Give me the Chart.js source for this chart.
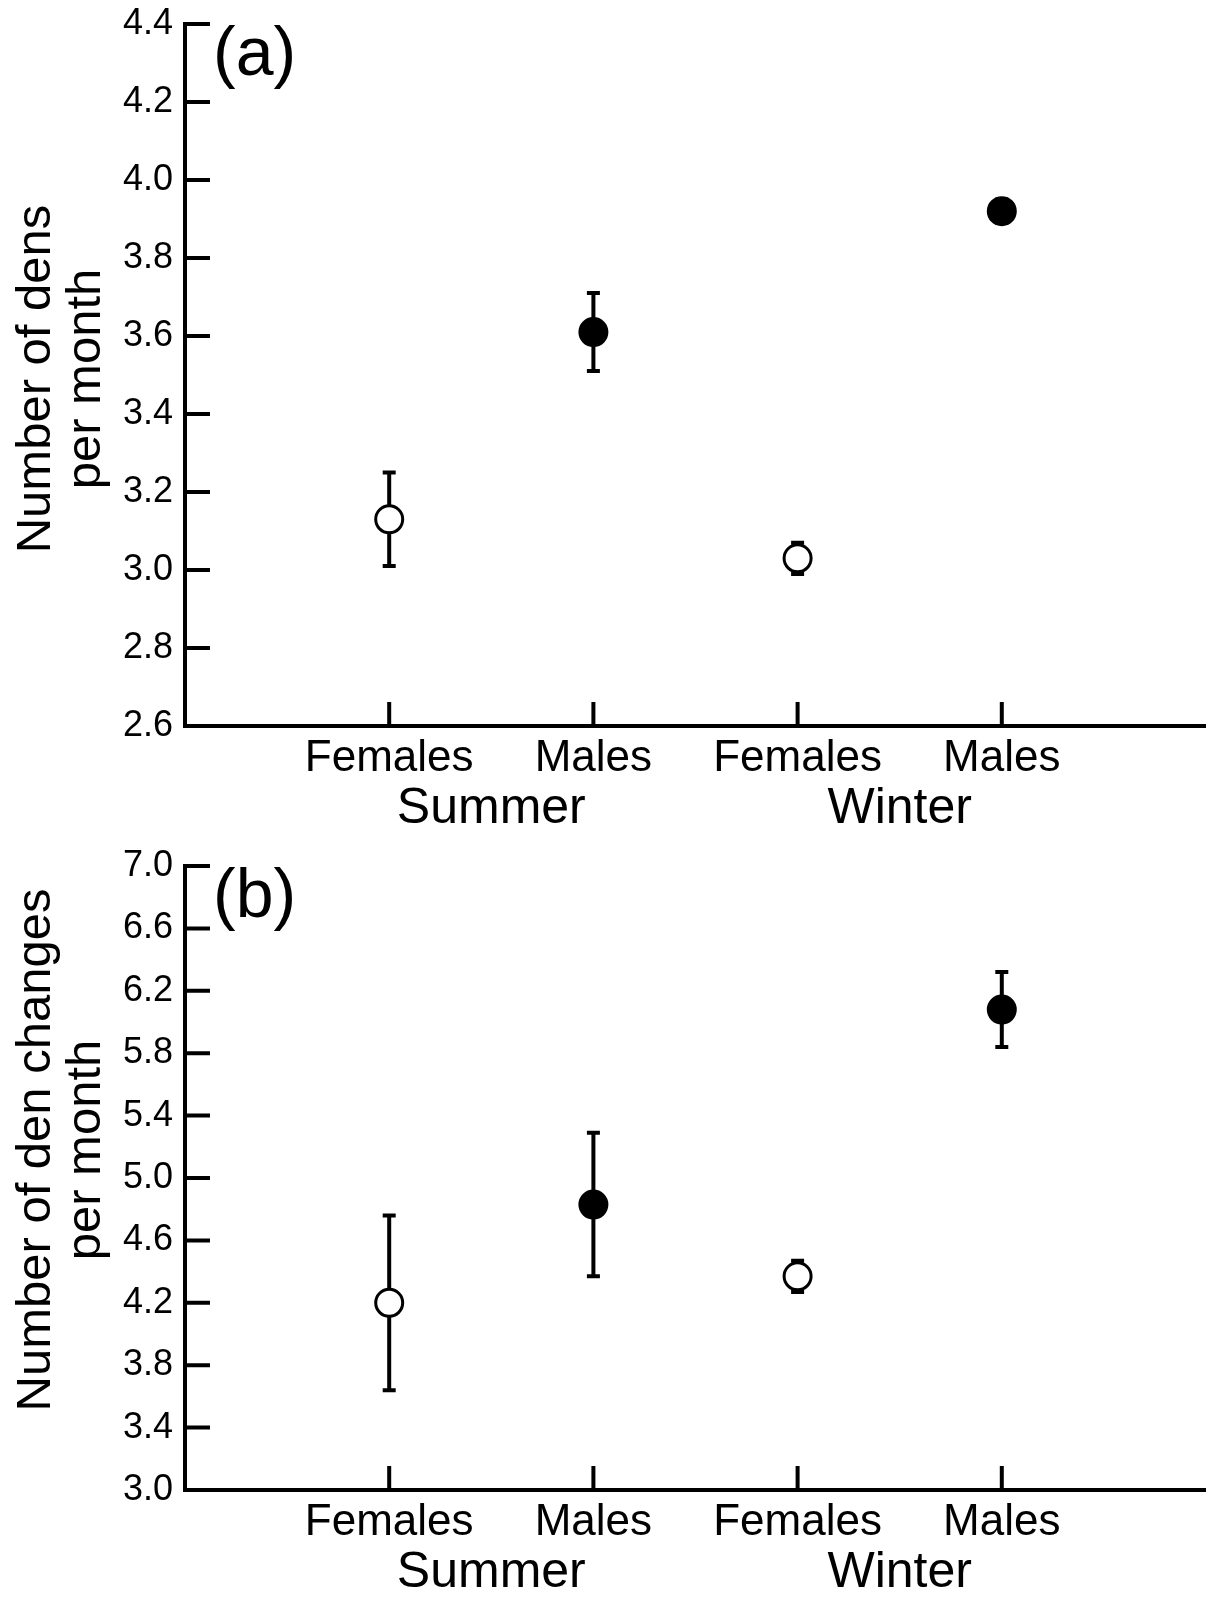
<!DOCTYPE html>
<html>
<head>
<meta charset="utf-8">
<script src="https://cdn.jsdelivr.net/npm/chart.js@4.4.1/dist/chart.umd.min.js"></script>
<style>
  html, body { margin: 0; padding: 0; background: #fff; overflow: hidden; }
  canvas { position: absolute; left: 0; }
  #chartA { top: 0; }
  #chartB { top: 830px; }
</style>
</head>
<body>
<canvas id="chartA" width="1206" height="830"></canvas>
<canvas id="chartB" width="1206" height="768"></canvas>
<script>
// Data
const categories = ["Females", "Males", "Females", "Males"];
const seasons = ["Summer", "Winter"];
const isMale = [false, true, false, true];

const densMean = [3.13, 3.61, 3.03, 3.92];
const densErr = [0.12, 0.10, 0.04, 0.03];
const densTicks = [2.6, 2.8, 3.0, 3.2, 3.4, 3.6, 3.8, 4.0, 4.2, 4.4];

const changesMean = [4.20, 4.83, 4.37, 6.08];
const changesErr = [0.56, 0.46, 0.10, 0.24];
const changesTicks = [3.0, 3.4, 3.8, 4.2, 4.6, 5.0, 5.4, 5.8, 6.2, 6.6, 7.0];

const FONT = "'Liberation Sans', Arial, Helvetica, sans-serif";

// inward ticks, error bars, panel letter and two-line y title
const panelPlugin = {
  id: "panel",
  beforeDatasetsDraw(chart, args, opts) {
    const { ctx, chartArea: a, scales: { x, y } } = chart;
    ctx.save();
    ctx.strokeStyle = "#000";
    ctx.lineWidth = 4;
    ctx.lineCap = "butt";
    ctx.beginPath();
    y.ticks.forEach((t) => {
      const py = y.getPixelForValue(t.value);
      ctx.moveTo(a.left, py);
      ctx.lineTo(a.left + 25, py);
    });
    x.ticks.forEach((t) => {
      const px = x.getPixelForValue(t.value);
      ctx.moveTo(px, a.bottom);
      ctx.lineTo(px, a.bottom - 24);
    });
    ctx.stroke();

    // error bars
    opts.means.forEach((m, i) => {
      const px = x.getPixelForValue(i + 1);
      const hi = y.getPixelForValue(m + opts.errs[i]);
      const lo = y.getPixelForValue(m - opts.errs[i]);
      ctx.beginPath();
      ctx.moveTo(px, hi);
      ctx.lineTo(px, lo);
      ctx.moveTo(px - 6.5, hi);
      ctx.lineTo(px + 6.5, hi);
      ctx.moveTo(px - 6.5, lo);
      ctx.lineTo(px + 6.5, lo);
      ctx.stroke();
    });
    ctx.restore();
  },
  afterDraw(chart, args, opts) {
    const { ctx, chartArea: a } = chart;
    ctx.save();
    ctx.fillStyle = "#000";
    ctx.textBaseline = "alphabetic";
    ctx.textAlign = "left";
    ctx.font = "68px " + FONT;
    ctx.fillText(opts.letter, a.left + 28, a.top + 51);

    const cy = (a.top + a.bottom) / 2 + opts.titleShift;
    ctx.font = "49px " + FONT;
    ctx.textAlign = "center";
    opts.title.forEach((line, i) => {
      ctx.save();
      ctx.translate(50 + i * 50, cy);
      ctx.rotate(-Math.PI / 2);
      ctx.fillText(line, 0, 0);
      ctx.restore();
    });
    ctx.restore();
  },
};

const noSidePadding = (s) => {
  s.paddingLeft = 0;
  s.paddingRight = 0;
};

function makeChart(id, means, errs, ticks, letter, title, titleShift, topPad, bottomH) {
  const ctx = document.getElementById(id).getContext("2d");
  return new Chart(ctx, {
    type: "scatter",
    data: {
      datasets: [
        {
          data: means.map((m, i) => ({ x: i + 1, y: m })),
          pointRadius: 13.5,
          pointHoverRadius: 13.5,
          pointBorderWidth: 3,
          pointBorderColor: "#000",
          pointBackgroundColor: isMale.map((m) => (m ? "#000" : "#fff")),
          showLine: false,
        },
      ],
    },
    options: {
      responsive: false,
      animation: false,
      events: [],
      layout: {
        autoPadding: false,
        padding: { top: topPad, left: 0, right: 0, bottom: 0 },
      },
      plugins: {
        legend: { display: false },
        tooltip: { enabled: false },
        panel: { means, errs, letter, title, titleShift },
      },
      scales: {
        x: {
          type: "linear",
          position: "bottom",
          min: 0,
          max: 5,
          afterBuildTicks: (s) => {
            s.ticks = categories.map((c, i) => ({ value: i + 1 }));
          },
          afterFit: (s) => {
            s.height = 53;
            noSidePadding(s);
          },
          grid: { display: false, drawTicks: false },
          border: { display: true, color: "#000", width: 4 },
          ticks: {
            color: "#000",
            font: { family: FONT, size: 44 },
            padding: 6,
            maxRotation: 0,
            autoSkip: false,
            callback: (v) => categories[v - 1] || "",
          },
        },
        x2: {
          type: "linear",
          position: "bottom",
          min: 0,
          max: 5,
          afterBuildTicks: (s) => {
            s.ticks = seasons.map((c, i) => ({ value: 1.5 + 2 * i }));
          },
          afterFit: (s) => {
            s.height = bottomH - 53;
            noSidePadding(s);
          },
          grid: { display: false, drawTicks: false },
          border: { display: false },
          ticks: {
            color: "#000",
            font: { family: FONT, size: 50 },
            padding: 0,
            maxRotation: 0,
            autoSkip: false,
            callback: (v) => seasons[(v - 1.5) / 2] || "",
          },
        },
        y: {
          type: "linear",
          min: ticks[0],
          max: ticks[ticks.length - 1],
          afterBuildTicks: (s) => {
            s.ticks = ticks.map((v) => ({ value: v }));
          },
          afterFit: (s) => {
            s.width = 185;
            s.paddingTop = 0;
            s.paddingBottom = 0;
          },
          grid: { display: false, drawTicks: false },
          border: { display: true, color: "#000", width: 4 },
          ticks: {
            color: "#000",
            font: { family: FONT, size: 36 },
            padding: 12,
            callback: (v) => Number(v).toFixed(1),
          },
        },
      },
    },
    plugins: [panelPlugin],
  });
}

makeChart("chartA", densMean, densErr, densTicks, "(a)",
  ["Number of dens", "per month"], 4, 24, 104);
makeChart("chartB", changesMean, changesErr, changesTicks, "(b)",
  ["Number of den changes", "per month"], -28, 36, 108);
</script>
</body>
</html>
